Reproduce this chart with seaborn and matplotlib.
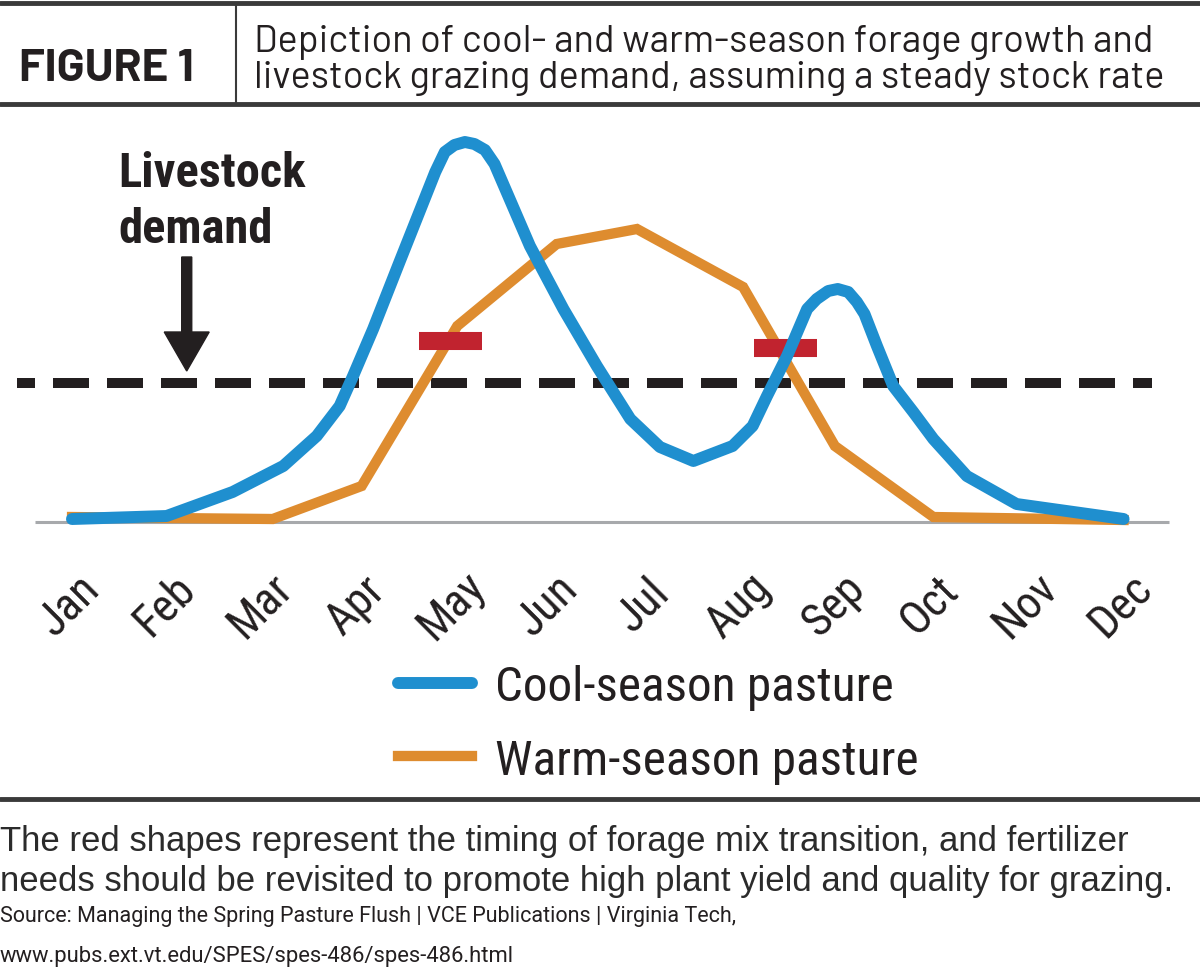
import matplotlib
matplotlib.use("Agg")
import matplotlib.pyplot as plt
import pandas as pd
import seaborn as sns
from matplotlib import font_manager
from matplotlib.lines import Line2D
from matplotlib.transforms import ScaledTranslation

months = ["Jan", "Feb", "Mar", "Apr", "May", "Jun", "Jul", "Aug", "Sep", "Oct", "Nov", "Dec"]

# cool-season growth curve (month index, relative growth)
cool_month = [0.0, 0.99, 1.68, 2.21, 2.56, 2.80, 2.94, 3.15, 3.43, 3.80, 3.90, 4.00, 4.11, 4.21,
              4.32, 4.42, 4.79, 5.14, 5.49, 5.84, 6.15, 6.50, 6.91, 7.12, 7.27, 7.48, 7.69,
              7.79, 7.91, 8.01, 8.12, 8.21, 8.29, 8.42, 8.59, 8.80, 9.01, 9.36, 9.88, 11.0]
cool_growth = [3, 6, 30, 56, 86, 116, 146, 193, 261, 350, 370, 377, 380, 378,
               372, 358, 276, 213, 156, 103, 75, 61, 76, 96, 126, 166, 213,
               223, 231, 233, 230, 220, 208, 176, 136, 110, 83, 46, 18, 3]

# warm-season growth (straight segments)
warm_month = [0.0, 1.0, 2.1, 3.03, 4.03, 5.07, 5.91, 7.02, 7.98, 9.01, 11.0]
warm_growth = [5, 4, 3, 36, 196, 278, 293, 235, 76, 5, 2]

demand_level = 139

# red transition marks
transition_start = [3.63, 7.13]
transition_end = [4.29, 7.79]
transition_level = [181, 174]

BLUE = "#1f8fcf"
ORANGE = "#de8c2f"
RED = "#c1232f"
DARK = "#231f20"
GREY = "#a7a9ac"

sns.set_theme(style="white")
available = {f.name for f in font_manager.fontManager.ttflist}


def pick(*names):
    for n in names:
        if n in available:
            return [n, "DejaVu Sans"]
    return ["DejaVu Sans"]


COND = pick("Roboto Condensed", "Archivo Narrow", "Liberation Sans")
DIN = pick("Barlow", "DejaVu Sans")
HELV = pick("Liberation Sans", "DejaVu Sans")
SMALL = pick("Roboto", "Liberation Sans")

plt.rcParams["font.family"] = COND
plt.rcParams["text.color"] = DARK

fig = plt.figure(figsize=(12, 9.7), dpi=100)
W, H = 1200, 970
ax = fig.add_axes([14.64 / W, 1 - 543 / H, 1166.3 / W, 428 / H])

cool = pd.DataFrame({"month": cool_month, "growth": cool_growth})
warm = pd.DataFrame({"month": warm_month, "growth": warm_growth})

ax.hlines(0, -0.387, 11.475, color=GREY, lw=2.2, zorder=1)
ax.hlines(demand_level, -0.575, 11.30, color=DARK, lw=7.2,
          linestyles=[(1.8, (3.6, 1.8))], zorder=2)

sns.lineplot(data=warm, x="month", y="growth", color=ORANGE, lw=7.4, sort=False,
             solid_joinstyle="miter", solid_capstyle="projecting",
             label="Warm-season pasture", ax=ax, zorder=3)
ax.hlines(transition_level, transition_start, transition_end, color=RED, lw=13,
          capstyle="butt", zorder=4)
sns.lineplot(data=cool, x="month", y="growth", color=BLUE, lw=8.6, sort=False,
             solid_joinstyle="round", solid_capstyle="round",
             label="Cool-season pasture", ax=ax, zorder=5)

ax.arrow(1.20, 265, 0, 151 - 265, width=0.105, head_width=0.47, head_length=39,
         length_includes_head=True, color=DARK, zorder=6)

ax.set_xlim(-0.6, 11.6)
ax.set_ylim(-20, 408)
ax.set_xlabel("")
ax.set_ylabel("")
ax.set_yticks([])
ax.set_xticks(range(12), months)
ax.tick_params(axis="x", length=0, pad=45, labelsize=33, colors=DARK)
for lab in ax.get_xticklabels():
    lab.set_rotation(45)
    lab.set_ha("center")
    lab.set_va("center")
    lab.set_rotation_mode("anchor")
    lab.set_transform(lab.get_transform() + ScaledTranslation(-0.03, 0, fig.dpi_scale_trans))
sns.despine(ax=ax, left=True, bottom=True)

handles, labels = ax.get_legend_handles_labels()
order = [labels.index("Cool-season pasture"), labels.index("Warm-season pasture")]
ax.legend([handles[i] for i in order], [labels[i] for i in order],
          loc="upper left", bbox_to_anchor=(398 / W, 1 - 665 / H), bbox_transform=fig.transFigure,
          frameon=False, prop={"family": COND, "size": 35.5},
          handlelength=1.5, handletextpad=0.47, labelspacing=0.56, borderpad=0, borderaxespad=0)

fig.text(118 / W, 1 - 187 / H, "Livestock", fontsize=35, weight="bold", va="baseline")
fig.text(118 / W, 1 - 243 / H, "demand", fontsize=35, weight="bold", va="baseline")

# header
fig.add_artist(Line2D([0, 1], [1 - 4 / H, 1 - 4 / H], color="#3a3a3a", lw=3.5))
fig.add_artist(Line2D([0, 1], [1 - 105 / H, 1 - 105 / H], color="#3a3a3a", lw=3.5))
fig.add_artist(Line2D([236 / W, 236 / W], [1 - 5 / H, 1 - 104 / H], color="#3a3a3a", lw=1.5))
fig.text(19 / W, 1 - 81 / H, "FIGURE 1", fontsize=33, weight="bold", va="baseline", family=DIN)
fig.text(254 / W, 1 - 52 / H, "Depiction of cool- and warm-season forage growth and",
         fontsize=27.3, va="baseline", family=DIN)
fig.text(254 / W, 1 - 88 / H, "livestock grazing demand, assuming a steady stock rate",
         fontsize=27.3, va="baseline", family=DIN)

# footer
fig.add_artist(Line2D([0, 1], [1 - 800 / H, 1 - 800 / H], color="#3a3a3a", lw=3.5))
fig.text(0, 1 - 851 / H, "The red shapes represent the timing of forage mix transition, and fertilizer",
         fontsize=25, va="baseline", family=HELV, color="#2b2b2b")
fig.text(0, 1 - 891 / H, "needs should be revisited to promote high plant yield and quality for grazing.",
         fontsize=25, va="baseline", family=HELV, color="#2b2b2b")
fig.text(0, 1 - 922 / H, "Source: Managing the Spring Pasture Flush | VCE Publications | Virginia Tech,",
         fontsize=15.5, va="baseline", family=SMALL)
fig.text(0, 1 - 962 / H, "www.pubs.ext.vt.edu/SPES/spes-486/spes-486.html",
         fontsize=15.8, va="baseline", family=SMALL)

fig.savefig("out.png", dpi=100)
